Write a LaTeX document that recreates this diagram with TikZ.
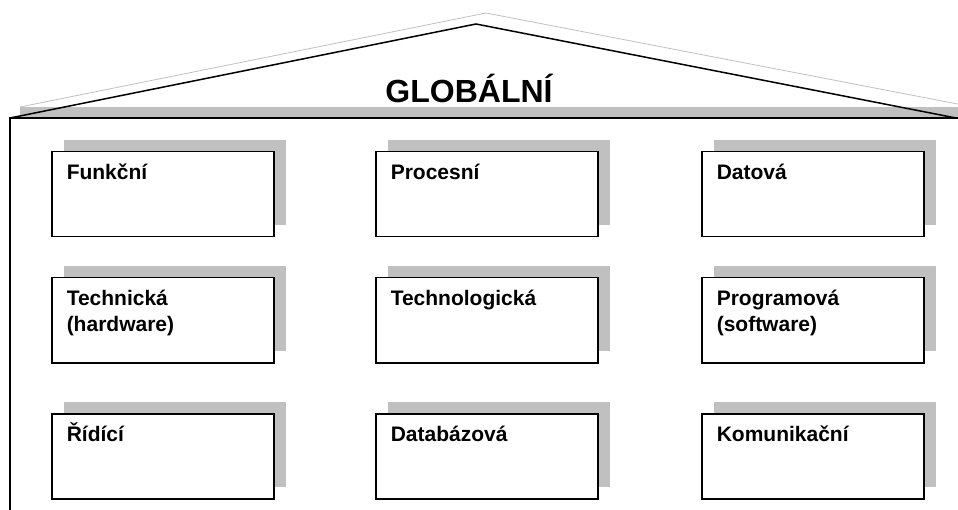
\documentclass[tikz,border=0pt]{standalone}
\usepackage{fontspec}
\setmainfont{Liberation Sans}
\usetikzlibrary{shadows}
\definecolor{stin}{RGB}{192,192,192}
\tikzstyle{blok}=[draw, line width=1.5pt, fill=white, anchor=north west, inner xsep=15pt, inner ysep=0pt, font=\bfseries\fontsize{21}{25.5}\selectfont, general shadow={fill=stin, shadow xshift=12pt, shadow yshift=12pt}]
\newcommand{\obsah}[1]{\parbox[c][85pt][t]{192pt}{\lineskiplimit=-100pt\vspace*{2.5pt}\hbox{}#1}}

\begin{document}
\begin{tikzpicture}[x=1pt, y=-1pt]
\clip (0,0) rectangle (958,510); % page size
\draw[stin, line width=0.8pt] (20,107) -- (486,13) -- (968,106); % roof shadow
\fill[stin] (20,107) rectangle (975,530);
\draw[line width=1.5pt, fill=white] (10,118) rectangle (985,530); % house
\draw[line width=1.5pt] (10,118) -- (476,24) -- (956,118); % roof
\node[font=\bfseries\fontsize{32}{38}\selectfont, anchor=base] (globalni) at (469,103) {GLOBÁLNÍ};
\foreach \jmeno/\txt/\x/\y in {funkcni/Funkční/51/151, procesni/Procesní/375/151, datova/Datová/701/151,
  technicka/{Technická\\(hardware)}/51/277, technologicka/Technologická/375/277, programova/{Programová\\(software)}/701/277,
  ridici/Řídící/51/413, databazova/Databázová/375/413, komunikacni/Komunikační/701/413} % the nine boxes
\node[blok] (\jmeno) at (\x,\y) {\obsah{\txt}};
\end{tikzpicture}
\end{document}
